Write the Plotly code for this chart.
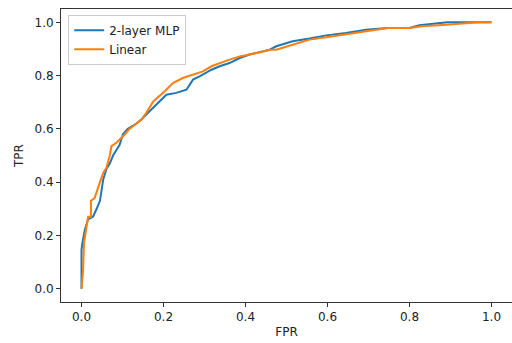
import plotly.graph_objects as go

mlp_fpr = [0.0, 0.0, 0.002, 0.008, 0.016, 0.028, 0.037, 0.045, 0.049, 0.053, 0.061, 0.069, 0.077, 0.085,
           0.093, 0.101, 0.113, 0.134, 0.146, 0.166, 0.191, 0.207, 0.231, 0.256, 0.272, 0.288, 0.317,
           0.337, 0.361, 0.386, 0.41, 0.434, 0.459, 0.475, 0.515, 0.556, 0.597, 0.645, 0.694, 0.747,
           0.80, 0.824, 0.868, 0.892, 1.0]
mlp_tpr = [0.0, 0.146, 0.17, 0.22, 0.26, 0.27, 0.30, 0.33, 0.37, 0.41, 0.45, 0.47, 0.50, 0.52,
           0.54, 0.58, 0.60, 0.62, 0.635, 0.666, 0.703, 0.728, 0.735, 0.747, 0.785, 0.797, 0.822,
           0.835, 0.847, 0.866, 0.879, 0.887, 0.897, 0.91, 0.929, 0.939, 0.951, 0.96, 0.972, 0.979,
           0.979, 0.989, 0.995, 1.0, 1.0]

lin_fpr = [0.0, 0.004, 0.006, 0.012, 0.016, 0.023, 0.023, 0.032, 0.040, 0.045, 0.053, 0.061, 0.069,
           0.073, 0.085, 0.093, 0.105, 0.117, 0.130, 0.146, 0.158, 0.175, 0.203, 0.223, 0.247, 0.272,
           0.296, 0.317, 0.337, 0.361, 0.386, 0.41, 0.434, 0.459, 0.475, 0.515, 0.556, 0.597, 0.645,
           0.694, 0.747, 0.80, 0.83, 0.88, 0.97, 1.0]
lin_tpr = [0.0, 0.07, 0.17, 0.23, 0.27, 0.27, 0.33, 0.34, 0.38, 0.40, 0.435, 0.455, 0.50,
           0.535, 0.548, 0.56, 0.578, 0.60, 0.616, 0.635, 0.66, 0.703, 0.741, 0.772, 0.791, 0.803,
           0.816, 0.835, 0.847, 0.86, 0.872, 0.879, 0.887, 0.897, 0.897, 0.916, 0.935, 0.944, 0.956,
           0.966, 0.979, 0.979, 0.985, 0.99, 1.0, 1.0]

tick_vals = [0.0, 0.2, 0.4, 0.6, 0.8, 1.0]
tick_text = ["0.0", "0.2", "0.4", "0.6", "0.8", "1.0"]

fig = go.Figure()
fig.add_trace(go.Scatter(x=mlp_fpr, y=mlp_tpr, mode="lines", name="2-layer MLP",
                         line=dict(color="#1f77b4", width=2)))
fig.add_trace(go.Scatter(x=lin_fpr, y=lin_tpr, mode="lines", name="Linear",
                         line=dict(color="#ff7f0e", width=2)))

axis_common = dict(
    range=[-0.05, 1.05], tickvals=tick_vals, ticktext=tick_text,
    showgrid=False, zeroline=False, showline=True, mirror=True,
    linecolor="#333333", linewidth=1, ticks="outside", ticklen=4,
    tickcolor="#333333", tickfont=dict(size=12, color="#222222"),
    automargin=False,
)

fig.update_layout(
    width=512, height=343,
    margin=dict(l=61, r=0, t=9, b=41),
    plot_bgcolor="white", paper_bgcolor="white",
    font=dict(family="DejaVu Sans", size=12, color="#222222"),
    xaxis=dict(**axis_common, title=dict(text="FPR", standoff=4, font=dict(size=12))),
    yaxis=dict(**axis_common, title=dict(text="TPR", standoff=8, font=dict(size=12))),
    legend=dict(x=0.016, y=0.98, xanchor="left", yanchor="top",
                bgcolor="rgba(255,255,255,0.8)", bordercolor="#cccccc", borderwidth=1,
                font=dict(size=12), itemwidth=30, tracegroupgap=0),
    showlegend=True,
)

fig.write_html("out.html", config={"displayModeBar": False},
               post_script="document.body.style.margin='0';document.body.style.overflow='hidden';")
